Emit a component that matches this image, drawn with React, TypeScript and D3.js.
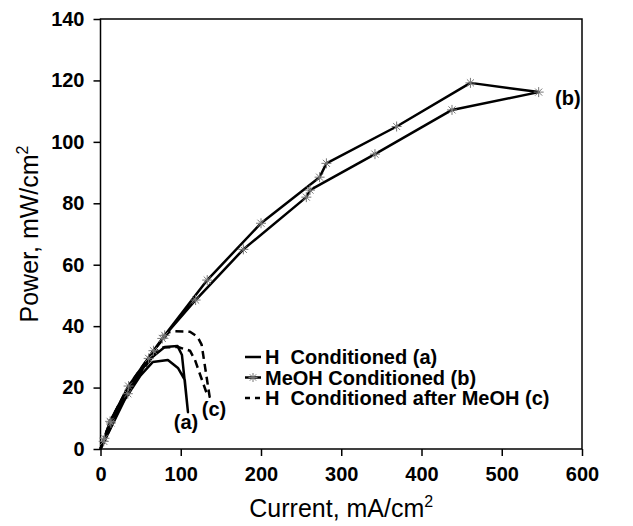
import { useEffect, useRef } from "react";
import * as d3 from "d3";

// H conditioned (a) – solid, forward and return branch
const currentA = [0, 12, 35, 55, 65, 80, 96, 101.5, 109, 105, 96.5, 84, 65, 50, 30, 0];
const powerA = [0, 9, 20, 27, 30, 33.2, 33.5, 30.6, 12, 22.5, 26.4, 29, 28.3, 24, 16, 0];

// MeOH conditioned (b) – asterisk markers
const currentB = [0, 5, 12, 35, 66, 80, 133, 200, 273, 281.5, 369, 461, 546, 438, 342, 261, 256.5, 178, 118.5, 77, 60, 34, 13, 4, 0];
const powerB = [0, 3.5, 9, 20.5, 32, 37, 55, 73.5, 88.5, 93, 105, 119.2, 116.2, 110.4, 96, 84.3, 82, 65, 48.5, 36, 29.5, 18, 8.5, 2.5, 0];

// H conditioned after MeOH (c) – dashed
const currentC = [0, 12, 35, 66, 85, 93, 111.5, 121, 126, 136, 132.5, 117.7, 111.5, 96.5, 74, 50, 25, 0];
const powerC = [0, 9, 20.5, 32, 38, 38.3, 38.2, 36.5, 34, 17, 18, 29, 32, 33.2, 33, 25, 14, 0];

const currentTicks = [0, 100, 200, 300, 400, 500, 600];
const powerTicks = [0, 20, 40, 60, 80, 100, 120, 140];

const legendLabels = ["H  Conditioned (a)", "MeOH Conditioned (b)", "H  Conditioned after MeOH (c)"];

const W = 633;
const H = 526;
const left = 100.5;
const right = 582;
const top = 19;
const bottom = 449;

const font = "'Liberation Sans', Arial, Helvetica, sans-serif";

function asterisk(cx: number, cy: number, r: number) {
  const p = d3.path();
  for (let k = 0; k < 4; k++) {
    const a = (k * Math.PI) / 4;
    p.moveTo(cx - r * Math.cos(a), cy - r * Math.sin(a));
    p.lineTo(cx + r * Math.cos(a), cy + r * Math.sin(a));
  }
  return p.toString();
}

export default function App() {
  const xAxisRef = useRef<SVGGElement>(null);
  const yAxisRef = useRef<SVGGElement>(null);

  const x = d3.scaleLinear().domain([0, 600]).range([left, right]);
  const y = d3.scaleLinear().domain([0, 140]).range([bottom, top]);

  const line = d3
    .line<[number, number]>()
    .x((d) => x(d[0]))
    .y((d) => y(d[1]));

  const seriesA = currentA.map((c, i) => [c, powerA[i]] as [number, number]);
  const seriesB = currentB.map((c, i) => [c, powerB[i]] as [number, number]);
  const seriesC = currentC.map((c, i) => [c, powerC[i]] as [number, number]);

  useEffect(() => {
    const xAxis = d3.axisBottom(x).tickValues(currentTicks).tickSize(7).tickPadding(11);
    const yAxis = d3.axisLeft(y).tickValues(powerTicks).tickSize(7).tickPadding(9);

    const gx = d3.select(xAxisRef.current).call(xAxis);
    const gy = d3.select(yAxisRef.current).call(yAxis);

    [gx, gy].forEach((g) => {
      g.select(".domain").remove();
      g.selectAll(".tick line").attr("stroke", "#000").attr("stroke-width", 1.5);
      g.selectAll(".tick text")
        .attr("fill", "#000")
        .style("font-family", font)
        .style("font-weight", "bold")
        .style("font-size", "20px");
    });
  }, []);

  return (
    <svg width={W} height={H} style={{ position: "absolute", left: 0, top: 0, background: "#fff" }}>
      <rect x={left} y={top} width={right - left} height={bottom - top} fill="none" stroke="#000" strokeWidth={1.5} />
      <g ref={xAxisRef} transform={`translate(0,${bottom})`} />
      <g ref={yAxisRef} transform={`translate(${left},0)`} />

      {/* data */}
      <path d={line(seriesB) ?? ""} fill="none" stroke="#000" strokeWidth={2.5} strokeLinejoin="round" />
      <path d={line(seriesA) ?? ""} fill="none" stroke="#000" strokeWidth={2.5} strokeLinejoin="round" />
      <path d={line(seriesC) ?? ""} fill="none" stroke="#000" strokeWidth={2.5} strokeDasharray="8,5" strokeLinejoin="round" />
      {seriesB.slice(1, -1).map((d, i) => (
        <path key={i} d={asterisk(x(d[0]), y(d[1]), 5)} stroke="#777" strokeWidth={1} fill="none" />
      ))}

      {/* curve labels */}
      <g fontFamily={font} fontWeight="bold" fontSize={20} fill="#000">
        <text x={555} y={105}>(b)</text>
        <text x={186} y={429} textAnchor="middle">(a)</text>
        <text x={214} y={416} textAnchor="middle">(c)</text>
      </g>

      {/* legend */}
      <g fontFamily={font} fontWeight="bold" fontSize={20} fill="#000">
        {legendLabels.map((label, i) => {
          const ly = 357 + i * 20.5;
          return (
            <g key={label}>
              {i < 2 ? (
                <line x1={245} x2={261} y1={ly} y2={ly} stroke="#000" strokeWidth={2.5} />
              ) : (
                <>
                  <line x1={245} x2={250} y1={ly} y2={ly} stroke="#000" strokeWidth={2.5} />
                  <line x1={255} x2={260} y1={ly} y2={ly} stroke="#000" strokeWidth={2.5} />
                </>
              )}
              {i === 1 && <path d={asterisk(253, ly, 4.5)} stroke="#777" strokeWidth={1} fill="none" />}
              <text x={265} y={ly + 7} style={{ whiteSpace: "pre" }}>
                {label}
              </text>
            </g>
          );
        })}
      </g>

      {/* axis titles */}
      <text x={(left + right) / 2} y={517} textAnchor="middle" fontFamily={font} fontSize={25} fill="#000">
        Current, mA/cm<tspan dy={-10} fontSize={16}>2</tspan>
      </text>
      <text
        transform={`translate(38,${(top + bottom) / 2}) rotate(-90)`}
        textAnchor="middle"
        fontFamily={font}
        fontSize={25}
        fill="#000"
      >
        Power, mW/cm<tspan dy={-10} fontSize={16}>2</tspan>
      </text>
    </svg>
  );
}
